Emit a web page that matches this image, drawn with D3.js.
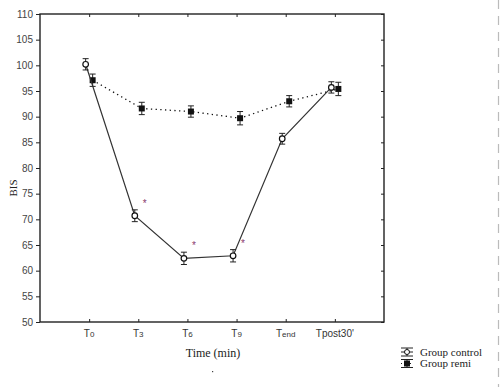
<!DOCTYPE html>
<html>
<head>
<meta charset="utf-8">
<script src="https://cdn.jsdelivr.net/npm/d3@7"></script>
<style>
  body { margin: 0; background: #fff; }
  svg { display: block; }
</style>
</head>
<body>
<svg width="500" height="387"></svg>
<script>
// data
const times = ["T0", "T3", "T6", "T9", "Tend", "Tpost30'"];
const control = [100.2, 70.7, 62.4, 62.9, 85.7, 95.7];
const controlErr = [1.1, 1.15, 1.2, 1.2, 1.05, 1.1];
const remi = [97.1, 91.6, 91.0, 89.7, 93.0, 95.4];
const remiErr = [1.2, 1.2, 1.1, 1.3, 1.1, 1.3];
const signif = [false, true, true, true, false, false];
const yTicks = d3.range(50, 111, 5);

const svg = d3.select("svg");
const plotL = 40, plotR = 384, plotT = 14, plotB = 322;

let x = d3.scalePoint().domain(times).range([plotL, plotR]).padding(1);
let y = d3.scaleLinear().domain([50, 110]).range([plotB, plotT]);

// gray dashed page edge
svg.append("line")
    .attr("x1", 498.5).attr("x2", 498.5)
    .attr("y1", 0).attr("y2", 387)
    .attr("stroke", "#bbb")
    .attr("stroke-width", 1.2)
    .attr("stroke-dasharray", "9,7");

// left axis (ticks outward)
let yAxis = svg.append("g")
    .attr("transform", "translate(" + plotL + ",0)")
    .call(d3.axisLeft(y).tickValues(yTicks).tickSize(4).tickPadding(3));
yAxis.select(".domain").remove();
yAxis.selectAll("line").attr("stroke", "#222");
yAxis.selectAll("text")
    .style("font-family", "Liberation Sans, Arial, sans-serif")
    .style("font-size", "10px")
    .attr("fill", "#444");

// right axis ticks (inward)
let yAxisR = svg.append("g")
    .attr("transform", "translate(" + plotR + ",0)")
    .call(d3.axisLeft(y).tickValues(yTicks).tickSize(3).tickFormat(""));
yAxisR.select(".domain").remove();
yAxisR.selectAll("line").attr("stroke", "#222").attr("x2", -3);

// bottom axis (ticks inward)
let xAxis = svg.append("g")
    .attr("transform", "translate(0," + plotB + ")")
    .call(d3.axisBottom(x).tickSize(-3).tickFormat(""));
xAxis.select(".domain").remove();
xAxis.selectAll("line").attr("stroke", "#222");

// top axis ticks (inward)
let xAxisT = svg.append("g")
    .attr("transform", "translate(0," + plotT + ")")
    .call(d3.axisTop(x).tickSize(-3).tickFormat(""));
xAxisT.select(".domain").remove();
xAxisT.selectAll("line").attr("stroke", "#222");

// x tick labels with small suffix
let xl = svg.append("g").selectAll("text")
    .data(times)
    .enter()
    .append("text")
    .attr("x", d => x(d))
    .attr("y", 337)
    .attr("text-anchor", "middle")
    .style("font-family", "Liberation Sans, Arial, sans-serif")
    .attr("fill", "#333");
xl.append("tspan").style("font-size", "10px").text("T");
xl.append("tspan")
    .style("font-size", d => d.indexOf("post") >= 0 ? "10px" : "8px")
    .text(d => d.slice(1));

// frame
svg.append("rect")
    .attr("x", plotL).attr("y", plotT)
    .attr("width", plotR - plotL).attr("height", plotB - plotT)
    .attr("fill", "none")
    .attr("stroke", "#222")
    .attr("stroke-width", 1.4);

// axis titles
svg.append("text")
    .attr("transform", "translate(17,188) rotate(-90)")
    .attr("text-anchor", "middle")
    .style("font-family", "Liberation Serif, Times New Roman, serif")
    .style("font-size", "11px")
    .attr("fill", "#222")
    .text("BIS");

svg.append("text")
    .attr("x", 213).attr("y", 357)
    .attr("text-anchor", "middle")
    .style("font-family", "Liberation Serif, Times New Roman, serif")
    .style("font-size", "12px")
    .attr("fill", "#222")
    .text("Time (min)");

svg.append("rect")
    .attr("x", 212).attr("y", 371).attr("width", 1.2).attr("height", 1.2)
    .attr("fill", "#444");

const offC = -3.5, offR = 3.5;

function series(vals, errs, off, dash) {
    let g = svg.append("g");
    let line = d3.line()
        .x((d, i) => x(times[i]) + off)
        .y(d => y(d));
    g.append("path")
        .datum(vals)
        .attr("d", line)
        .attr("fill", "none")
        .attr("stroke", dash ? "#111" : "#333")
        .attr("stroke-width", dash ? 1.3 : 1.2)
        .attr("stroke-dasharray", dash ? "1.3,3.4" : null);

    let eb = g.selectAll(".eb")
        .data(vals)
        .enter()
        .append("g")
        .attr("stroke", "#222")
        .attr("stroke-width", 1);
    eb.append("line")
        .attr("x1", (d, i) => x(times[i]) + off)
        .attr("x2", (d, i) => x(times[i]) + off)
        .attr("y1", (d, i) => y(d + errs[i]))
        .attr("y2", (d, i) => y(d - errs[i]));
    eb.append("line")
        .attr("x1", (d, i) => x(times[i]) + off - 3)
        .attr("x2", (d, i) => x(times[i]) + off + 3)
        .attr("y1", (d, i) => y(d + errs[i]))
        .attr("y2", (d, i) => y(d + errs[i]));
    eb.append("line")
        .attr("x1", (d, i) => x(times[i]) + off - 3)
        .attr("x2", (d, i) => x(times[i]) + off + 3)
        .attr("y1", (d, i) => y(d - errs[i]))
        .attr("y2", (d, i) => y(d - errs[i]));
    return g;
}

let gR = series(remi, remiErr, offR, true);
gR.selectAll(".mk")
    .data(remi)
    .enter()
    .append("rect")
    .attr("x", (d, i) => x(times[i]) + offR - 3)
    .attr("y", d => y(d) - 3)
    .attr("width", 6).attr("height", 6)
    .attr("fill", "#111");

let gC = series(control, controlErr, offC, false);
gC.selectAll(".mk")
    .data(control)
    .enter()
    .append("circle")
    .attr("cx", (d, i) => x(times[i]) + offC)
    .attr("cy", d => y(d))
    .attr("r", 2.8)
    .attr("fill", "#fff")
    .attr("stroke", "#111")
    .attr("stroke-width", 1.2);

// significance stars
svg.append("g").selectAll("text")
    .data(control.map((v, i) => ({v: v, i: i})).filter(d => signif[d.i]))
    .enter()
    .append("text")
    .attr("x", d => x(times[d.i]) + offC + 10)
    .attr("y", d => y(d.v) - 9)
    .attr("text-anchor", "middle")
    .style("font-family", "Liberation Sans, Arial, sans-serif")
    .style("font-size", "10px")
    .attr("fill", "#8a3a6e")
    .text("*");

// legend
const legend = [
    {name: "Group control", dash: false},
    {name: "Group remi", dash: true}
];
let lg = svg.append("g").selectAll("g")
    .data(legend)
    .enter()
    .append("g")
    .attr("transform", (d, i) => "translate(407," + (352 + i * 11.5) + ")");
lg.append("line")
    .attr("x1", -6).attr("x2", 6).attr("y1", -4).attr("y2", -4)
    .attr("stroke", "#222");
lg.append("line")
    .attr("x1", -6).attr("x2", 6).attr("y1", 4).attr("y2", 4)
    .attr("stroke", "#222");
lg.append("line")
    .attr("x1", -6).attr("x2", 6).attr("y1", 0).attr("y2", 0)
    .attr("stroke", "#222")
    .attr("stroke-dasharray", d => d.dash ? "1,2" : null);
lg.append("line")
    .attr("x1", 0).attr("x2", 0).attr("y1", -4).attr("y2", 4)
    .attr("stroke", "#222");
lg.filter(d => !d.dash).append("circle")
    .attr("r", 2.5).attr("fill", "#fff").attr("stroke", "#111");
lg.filter(d => d.dash).append("rect")
    .attr("x", -3).attr("y", -3).attr("width", 6).attr("height", 6)
    .attr("fill", "#111");
lg.append("text")
    .attr("x", 13).attr("y", 3.5)
    .style("font-family", "Liberation Serif, Times New Roman, serif")
    .style("font-size", "11px")
    .attr("fill", "#222")
    .text(d => d.name);
</script>
</body>
</html>
